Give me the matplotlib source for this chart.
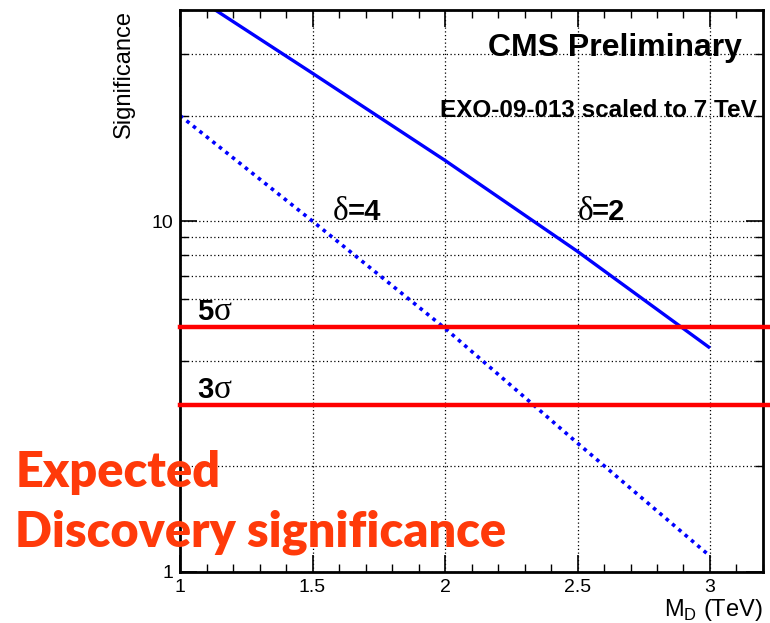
import matplotlib
matplotlib.use("Agg")
import matplotlib.pyplot as plt
from matplotlib.ticker import LogLocator, FixedLocator, MultipleLocator, NullFormatter, FixedFormatter

plt.rcParams['font.family'] = ['Liberation Sans', 'DejaVu Sans']

# Expected significance vs. fundamental Planck scale M_D
md = [1.0, 1.5, 2.0, 2.5, 3.0]
sig_delta2 = [46.5, 26.4, 14.9, 8.2, 4.35]
sig_delta4 = [20.0, 10.0, 4.95, 2.33, 1.11]
thresholds = [5, 3]
threshold_labels = ["5", "3"]

SERIF = ["Liberation Serif", "DejaVu Serif"]

fig = plt.figure(figsize=(7.7, 6.23), dpi=100)
ax = fig.add_axes([0.2338, 0.0819, 0.7571, 0.9021])

ax.set_yscale("log")
ax.set_xlim(1, 3.2)
ax.set_ylim(1, 40)

# grid: every y tick (major + minor), x major only
ax.xaxis.set_major_locator(MultipleLocator(0.5))
ax.xaxis.set_minor_locator(MultipleLocator(0.1))
ax.yaxis.set_major_locator(FixedLocator([1, 10]))
ax.yaxis.set_major_formatter(FixedFormatter(["1", "10"]))
ax.yaxis.set_minor_locator(LogLocator(base=10, subs=range(2, 10)))
ax.yaxis.set_minor_formatter(NullFormatter())
ax.xaxis.set_major_formatter(plt.FuncFormatter(lambda v, p: f"{v:g}"))

ax.grid(True, which="major", axis="x", color="black", linestyle=(0, (1, 2)), linewidth=0.9)
ax.grid(True, which="both", axis="y", color="black", linestyle=(0, (1, 2)), linewidth=0.9)

ax.tick_params(which="both", direction="in", top=True, right=True, labelsize=14, pad=5)
ax.tick_params(which="major", length=12, width=1.2)
ax.tick_params(which="minor", length=6, width=1.0)
for sp in ax.spines.values():
    sp.set_linewidth(2.0)

ax.plot(md, sig_delta2, color="#0000ff", linewidth=2.4, solid_capstyle="butt")
ax.plot(md, sig_delta4, color="#0000ff", linewidth=2.6, linestyle=(0, (1, 1.3)))

for t, lab in zip(thresholds, threshold_labels):
    ax.axhline(t, xmin=0, xmax=1.012, color="#ff0000", linewidth=3.2, clip_on=False, zorder=3)
    ax.text(1.064, t * 1.045, lab, fontsize=21, fontweight="bold", va="baseline")
    ax.text(1.127, t * 1.045, "σ", fontsize=24, family=SERIF, va="baseline")

# delta labels: serif delta followed by bold "=n"
ax.text(1.577, 10.05, "δ", fontsize=24, family=SERIF, va="baseline")
ax.text(1.632, 10.05, "=4", fontsize=21, fontweight="bold", va="baseline")
ax.text(2.500, 10.05, "δ", fontsize=24, family=SERIF, va="baseline")
ax.text(2.555, 10.05, "=2", fontsize=21, fontweight="bold", va="baseline")

ax.text(0.964, 0.918, "CMS Preliminary", transform=ax.transAxes, ha="right",
        va="baseline", fontsize=23, fontweight="bold")
ax.text(0.99, 0.81, "EXO-09-013 scaled to 7 TeV", transform=ax.transAxes, ha="right",
        va="baseline", fontsize=17.5, fontweight="bold")

ax.set_ylabel("Significance", fontsize=17, loc="top", labelpad=12)
ax.set_xlabel(r"M$_\mathregular{D}$ (TeV)", fontsize=17, loc="right", labelpad=1)

red_font = dict(color="#ff3a0a", fontsize=35, fontweight="heavy", family=["Lato", "DejaVu Sans"],
                va="baseline", ha="left")
fig.text(0.02, 0.218, "Expected", **red_font)
fig.text(0.02, 0.122, "Discovery significance", **red_font)

fig.savefig("out.png", dpi=100)
